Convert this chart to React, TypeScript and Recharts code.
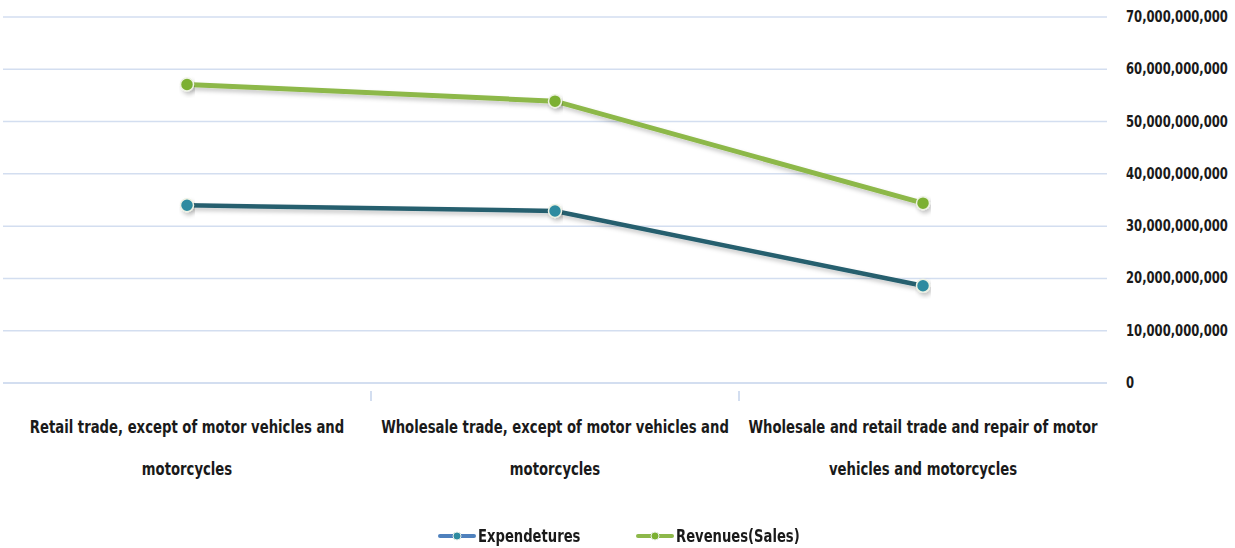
import React from 'react';
import { LineChart, Line, XAxis, YAxis, CartesianGrid } from 'recharts';

const categories = [
  'Retail trade, except of motor vehicles and motorcycles',
  'Wholesale trade, except of motor vehicles and motorcycles',
  'Wholesale and retail trade and repair of motor vehicles and motorcycles',
];
const tickLines = [
  ['Retail trade, except of motor vehicles and', 'motorcycles'],
  ['Wholesale trade, except of motor vehicles and', 'motorcycles'],
  ['Wholesale and retail trade and repair of motor', 'vehicles and motorcycles'],
];
const expenditures = [34000000000, 32900000000, 18600000000];
const revenues = [57100000000, 53900000000, 34400000000];
const yTicks = [0, 10000000000, 20000000000, 30000000000, 40000000000, 50000000000, 60000000000, 70000000000];

const data = categories.map((name, i) => ({
  name,
  expenditures: expenditures[i],
  revenues: revenues[i],
}));

const FONT = '"DejaVu Sans Condensed", "DejaVu Sans", sans-serif';

// the reference font is a condensed one, so squeeze the text horizontally.
// also draws the small mark on the boundary to the next category
const CategoryTick = (props: any) => {
  const { x, y, index, width, visibleTicksCount } = props;
  const lines = tickLines[index] || [];
  const half = width / (2 * (visibleTicksCount || categories.length));
  const last = index === (visibleTicksCount || categories.length) - 1;
  return (
    <g>
      {!last && <line x1={x + half} y1={y} x2={x + half} y2={y + 10} stroke="#d3def0" strokeWidth={2} />}
      <g transform={`translate(${x},${y}) scale(0.865,1)`}>
        {lines.map((t, i) => (
          <text key={i} x={0} y={42 + i * 42} textAnchor="middle" fontSize={17} fontWeight={700} fill="#1a1a1a" fontFamily={FONT}>
            {t}
          </text>
        ))}
      </g>
    </g>
  );
};

const ValueTick = (props: any) => {
  const { x, y, payload } = props;
  return (
    <g transform={`translate(${x + 17},${y}) scale(0.86,1)`}>
      <text x={0} y={5} textAnchor="start" fontSize={15} fontWeight={700} fill="#1a1a1a" fontFamily={FONT}>
        {payload.value.toLocaleString('en-US')}
      </text>
    </g>
  );
};

const LegendItem = ({ left, line, dot, label }: { left: number; line: string; dot: string; label: string }) => (
  <div style={{ position: 'absolute', left, top: 526, height: 20, display: 'flex', alignItems: 'center', whiteSpace: 'nowrap' }}>
    <svg width={38} height={12}>
      <line x1={2} y1={6} x2={36} y2={6} stroke={line} strokeWidth={4} strokeLinecap="round" />
      <circle cx={19} cy={6} r={4} fill={dot} stroke="#e8efe8" strokeWidth={1} />
    </svg>
    <span style={{ display: 'inline-block', lineHeight: '20px', transform: 'scaleX(0.86)', transformOrigin: 'left center', fontFamily: FONT, fontWeight: 700, fontSize: 17, color: '#1a1a1a', marginLeft: 2 }}>{label}</span>
  </div>
);

export default function App() {
  return (
    <div style={{ position: 'absolute', left: 0, top: 0, width: 1235, height: 548, background: '#fff', overflow: 'hidden' }}>
      <LineChart width={1235} height={548} data={data} margin={{ top: 17, right: 0, left: 3, bottom: 55 }}>
        <defs>
          <filter id="shadow" x="-10%" y="-50%" width="120%" height="200%">
            <feDropShadow dx={2} dy={3} stdDeviation={2} floodColor="#000" floodOpacity={0.22} />
          </filter>
        </defs>
        <CartesianGrid vertical={false} stroke="#d3def0" strokeWidth={1.5} />
        <XAxis
          dataKey="name"
          scale="point"
          padding={{ left: 184, right: 184 }}
          axisLine={{ stroke: '#d3def0', strokeWidth: 2 }}
          tickLine={false}
          tick={<CategoryTick />}
          interval={0}
          height={110}
        />
        <YAxis
          orientation="right"
          domain={[0, 70000000000]}
          ticks={yTicks}
          axisLine={false}
          tickLine={false}
          tickSize={0}
          tick={<ValueTick />}
          width={128}
        />
        <Line
          dataKey="expenditures"
          stroke="#255e6e"
          strokeWidth={4.5}
          filter="url(#shadow)"
          dot={{ r: 6.5, fill: '#2e8ba0', stroke: '#eef2e4', strokeWidth: 1.5 }}
          isAnimationActive={false}
        />
        <Line
          dataKey="revenues"
          stroke="#8db84a"
          strokeWidth={5}
          filter="url(#shadow)"
          dot={{ r: 6.5, fill: '#7bb032', stroke: '#eef2e4', strokeWidth: 1.5 }}
          isAnimationActive={false}
        />
      </LineChart>
      <LegendItem left={438} line="#4f81bd" dot="#2e8ba0" label="Expendetures" />
      <LegendItem left={636} line="#8db84a" dot="#7bb032" label="Revenues(Sales)" />
    </div>
  );
}
